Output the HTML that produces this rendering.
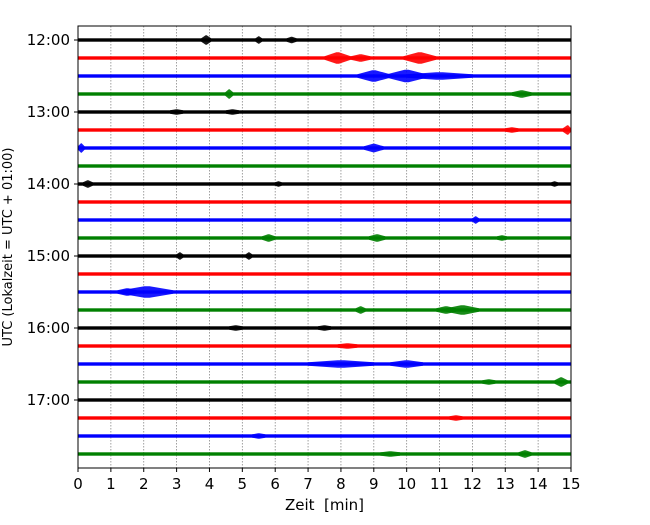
<!DOCTYPE html>
<html><head><meta charset="utf-8"><style>
body{margin:0;background:#fff;}
svg text{font-family:"DejaVu Sans","Liberation Sans",sans-serif;}
</style></head><body>
<svg id="chart" width="650" height="520" xmlns="http://www.w3.org/2000/svg">
<rect width="650" height="520" fill="#fff"/>
<g id="grid"></g><g id="traces"></g><g id="axes"></g>
</svg>
<script>
const rowColors = ['#000000','#ff0000','#0000ff','#008000'];
const hourLabels = ['12:00','13:00','14:00','15:00','16:00','17:00'];
const minuteTicks = [0,1,2,3,4,5,6,7,8,9,10,11,12,13,14,15];
const rowCount = 24;
// events: row index, minute, half amplitude (in trace units), half width (minutes)
const eventRows = [0,0,0,1,1,1,2,2,2,3,3,4,4,5,5,6,6,8,8,8,10,11,11,11,12,12,14,14,15,15,15,16,16,17,18,18,19,19,21,22,23,23];
const eventMinutes = [3.9,5.5,6.5,7.9,10.4,8.6,9.0,10.0,11.0,4.6,13.5,3.0,4.7,14.9,13.2,0.1,9.0,0.3,6.1,14.5,12.1,5.8,9.1,12.9,3.1,5.2,2.1,1.5,8.6,11.7,11.2,4.8,7.5,8.2,8.0,10.0,14.7,12.5,11.5,5.5,13.6,9.5];
const eventAmps = [3,2,1.5,4,4,2,4,4.5,2,3,2,1,1,3,1,3,2.5,2,1,1,2,2,2,1,2,2,4,2,2,3,2,1,1,1,2,2,3,1,1,1,2,1];
const eventWidths = [0.15,0.1,0.15,0.4,0.5,0.3,0.5,0.6,1.0,0.12,0.3,0.2,0.2,0.15,0.2,0.1,0.3,0.15,0.1,0.1,0.1,0.2,0.25,0.15,0.1,0.1,0.8,0.3,0.15,0.5,0.3,0.2,0.2,0.3,1.0,0.5,0.2,0.2,0.2,0.2,0.2,0.3];

const L=78,R=571,T=26,B=468,Y0=40,DY=18,BASE=1.7;
const xS=m=>L+(m-0)/(15-0)*(R-L);
const yS=r=>Y0+r*DY;
const NS='http://www.w3.org/2000/svg';
function mk(tag,attrs,parent){const e=document.createElementNS(NS,tag);for(const k in attrs)e.setAttribute(k,attrs[k]);parent.appendChild(e);return e;}
const grid=document.getElementById('grid'),traces=document.getElementById('traces'),axes=document.getElementById('axes');
minuteTicks.forEach(m=>{
  if(m>0&&m<15){const g=mk('line',{x1:xS(m),x2:xS(m),y1:T,y2:B,stroke:'#888','stroke-width':0.8,'stroke-dasharray':'1.5,1.5'},grid);
  
  }
  const t=mk('line',{x1:xS(m),x2:xS(m),y1:B,y2:B+4,stroke:'#000','stroke-width':1},axes);
  
  
  const lb=mk('text',{x:xS(m),y:B+21,'text-anchor':'middle','font-size':15},axes);lb.textContent=m;
  
  
});
for(let r=0;r<rowCount;r++){
  const c=rowColors[r%4];
  const tr=mk('rect',{x:L,y:yS(r)-BASE,width:R-L,height:BASE*2,fill:c},traces);
  
  
}
eventRows.forEach((r,i)=>{
  const c=rowColors[r%4],x=xS(eventMinutes[i]),y=yS(r),a=eventAmps[i]+BASE,w=eventWidths[i]*(R-L)/15;
  const x1=Math.max(L,x-w),x2=Math.min(R,x+w);
  const p=mk('polygon',{points:`${x1},${y-BASE} ${x-w*0.1},${y-a} ${x+w*0.1},${y-a} ${x2},${y-BASE} ${x2},${y+BASE} ${x+w*0.1},${y+a} ${x-w*0.1},${y+a} ${x1},${y+BASE}`,fill:c,'fill-opacity':0.9},traces);
  
  
});
hourLabels.forEach((h,i)=>{
  const y=yS(i*4);
  const t=mk('line',{x1:L-4,x2:L,y1:y,y2:y,stroke:'#000','stroke-width':1},axes);
  
  
  const lb=mk('text',{x:L-8,y:y+5,'text-anchor':'end','font-size':15},axes);lb.textContent=h;
  
  
});
const fr=mk('rect',{x:L,y:T,width:R-L,height:B-T,fill:'none',stroke:'#000','stroke-width':1},axes);


const xl=mk('text',{x:(L+R)/2,y:510,'text-anchor':'middle','font-size':15},axes);xl.textContent='Zeit\u00a0\u00a0[min]';


const yl=mk('text',{x:0,y:0,'text-anchor':'middle','font-size':13,transform:`translate(12,${(T+B)/2}) rotate(-90)`},axes);yl.textContent='UTC (Lokalzeit = UTC + 01:00)';


</script>
</body></html>
